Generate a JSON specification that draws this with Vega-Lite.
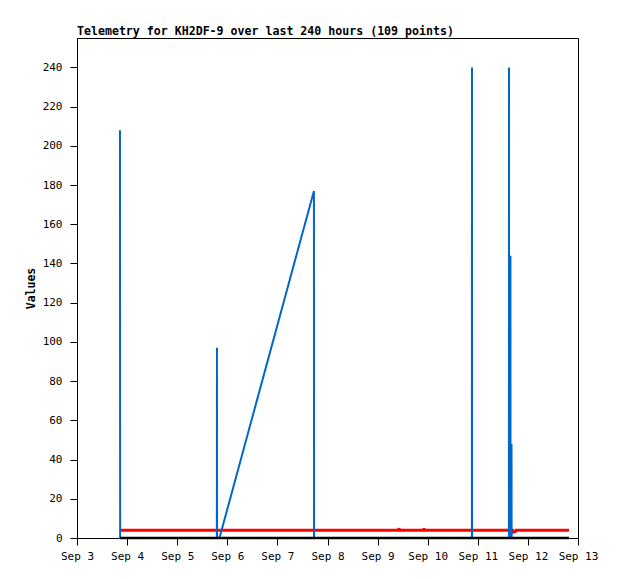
{
  "$schema": "https://vega.github.io/schema/vega-lite/v6.json",
  "width": 501,
  "height": 500,
  "autosize": "none",
  "padding": {"left": 77, "top": 38, "right": 40, "bottom": 41},
  "background": "white",
  "config": {
    "view": {"stroke": "black", "strokeWidth": 1},
    "axis": {
      "domainColor": "black",
      "tickColor": "black",
      "labelColor": "black",
      "titleColor": "black",
      "labelFont": "DejaVu Sans Mono",
      "labelFontSize": 11,
      "titleFont": "DejaVu Sans Mono",
      "titleFontSize": 11.5,
      "titleFontWeight": "bold",
      "grid": false,
      "tickSize": 7
    }
  },
  "title": {
    "text": "Telemetry for KH2DF-9 over last 240 hours (109 points)",
    "anchor": "start",
    "frame": "group",
    "font": "DejaVu Sans Mono",
    "fontSize": 11.6,
    "fontWeight": "bold",
    "color": "black",
    "offset": 0
  },
  "datasets": {
    "blue": [
      {"t": "2024-09-03T20:35", "v": 208},
      {"t": "2024-09-03T20:40", "v": 0},
      {"t": "2024-09-04T12:00", "v": 0},
      {"t": "2024-09-05T19:00", "v": 0},
      {"t": "2024-09-05T19:03", "v": 97},
      {"t": "2024-09-05T19:06", "v": 0},
      {"t": "2024-09-05T20:15", "v": 0},
      {"t": "2024-09-07T17:30", "v": 177},
      {"t": "2024-09-07T17:33", "v": 0},
      {"t": "2024-09-08T12:00", "v": 0},
      {"t": "2024-09-09T12:00", "v": 0},
      {"t": "2024-09-10T21:10", "v": 0},
      {"t": "2024-09-10T21:13", "v": 240},
      {"t": "2024-09-10T21:16", "v": 0},
      {"t": "2024-09-11T14:54", "v": 0},
      {"t": "2024-09-11T14:57", "v": 240},
      {"t": "2024-09-11T15:00", "v": 0},
      {"t": "2024-09-11T15:35", "v": 0},
      {"t": "2024-09-11T15:38", "v": 144},
      {"t": "2024-09-11T15:41", "v": 0},
      {"t": "2024-09-11T16:06", "v": 0},
      {"t": "2024-09-11T16:09", "v": 48},
      {"t": "2024-09-11T16:12", "v": 0},
      {"t": "2024-09-12T19:40", "v": 0}
    ],
    "red": [
      {"t": "2024-09-03T20:50", "v": 4},
      {"t": "2024-09-06T12:00", "v": 4},
      {"t": "2024-09-09T10:10", "v": 4},
      {"t": "2024-09-09T10:15", "v": 5},
      {"t": "2024-09-09T10:30", "v": 4},
      {"t": "2024-09-09T22:08", "v": 4},
      {"t": "2024-09-09T22:13", "v": 5},
      {"t": "2024-09-09T22:20", "v": 4},
      {"t": "2024-09-11T16:40", "v": 4},
      {"t": "2024-09-11T16:55", "v": 3},
      {"t": "2024-09-11T18:00", "v": 3.3},
      {"t": "2024-09-11T18:20", "v": 4},
      {"t": "2024-09-12T19:40", "v": 4}
    ],
    "black": [
      {"t": "2024-09-03T20:35", "v": 0},
      {"t": "2024-09-12T19:40", "v": 0}
    ]
  },
  "encoding": {
    "x": {
      "field": "t",
      "type": "temporal",
      "scale": {"domain": ["2024-09-03T00:00", "2024-09-13T00:00"], "nice": false},
      "axis": {
        "title": null,
        "format": "%b %-d",
        "tickCount": {"interval": "day", "step": 1},
        "labelOverlap": false,
        "labelPadding": 5,
        "labelFlush": false
      }
    },
    "y": {
      "field": "v",
      "type": "quantitative",
      "scale": {"domain": [0, 255], "nice": false},
      "axis": {
        "title": "Values",
        "values": [0, 20, 40, 60, 80, 100, 120, 140, 160, 180, 200, 220, 240],
        "labelPadding": 8,
        "titlePadding": 6
      }
    }
  },
  "layer": [
    {
      "data": {"name": "red"},
      "mark": {"type": "line", "color": "#ff0000", "strokeWidth": 3, "interpolate": "linear"}
    },
    {
      "data": {"name": "blue"},
      "mark": {"type": "line", "color": "#0066cc", "strokeWidth": 2, "interpolate": "linear"}
    },
    {
      "data": {"name": "black"},
      "mark": {"type": "line", "color": "#000000", "strokeWidth": 2.5, "interpolate": "linear"}
    }
  ]
}
